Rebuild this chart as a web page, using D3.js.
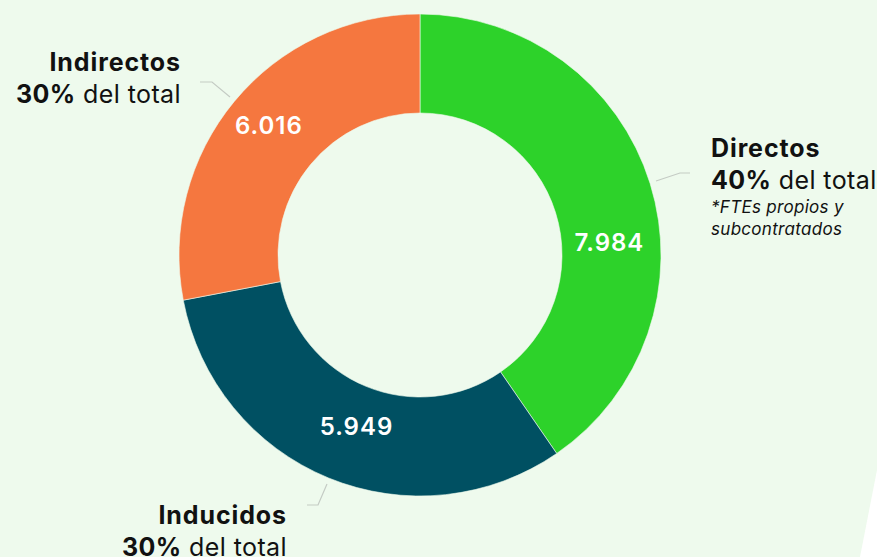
<!DOCTYPE html>
<html>
<head>
<meta charset="utf-8">
<script src="https://cdn.jsdelivr.net/npm/d3@7"></script>
<style>
  html, body { margin: 0; padding: 0; background: #eefaed; }
  #root { width: 877px; height: 557px; overflow: hidden; }
  text { font-family: Inter, "Noto Sans", sans-serif; }
</style>
</head>
<body>
<div id="root"></div>
<script>
// data
var categories = ['Directos', 'Inducidos', 'Indirectos'];
var values = [7984, 5949, 6016];
var percents = ['40%', '30%', '30%'];
// share of the ring each slice covers (in %)
var arcShares = [40.4, 31.6, 28.0];
var colors = ['#2dd22a', '#005062', '#f5773f'];
var note = ['*FTEs propios y', 'subcontratados'];

function drawDonut () {

  var width = 877;
  var height = 557;
  var cx = 420, cy = 255;
  var outerR = 241, innerR = 142;

  var svg = d3.select('#root')
    .append('svg')
      .attr('width', width)
      .attr('height', height);

  // white card edge in the corner
  svg.append('path')
    .attr('d', 'M877,470 L860,557 L877,557 Z')
    .style('fill', '#ffffff');

  var data = categories.map(function(c, i) {
    return {name: c, value: values[i], share: arcShares[i], pct: percents[i], color: colors[i]};
  });

  var pie = d3.pie()
    .sort(null)
    .value(function(d) { return d.share; });

  var arc = d3.arc()
    .innerRadius(innerR)
    .outerRadius(outerR);

  var g = svg.append('g')
    .attr('transform', 'translate(' + cx + ',' + cy + ')');

  var arcs = pie(data);

  g.selectAll('path.slice')
    .data(arcs)
    .enter()
    .append('path')
      .attr('class', 'slice')
      .attr('d', arc)
      .style('fill', function(d) { return d.data.color; })
      .style('stroke', '#eefaed')
      .style('stroke-width', 0.6);

  // value labels inside the ring (nudged to where the picture has them)
  var labelArc = d3.arc().innerRadius(191).outerRadius(191);
  var labelOffsets = [[7, 44], [9, -5], [-4, -8]];
  g.selectAll('text.val')
    .data(arcs)
    .enter()
    .append('text')
      .attr('class', 'val')
      .attr('x', function(d, i) { return labelArc.centroid(d)[0] + labelOffsets[i][0]; })
      .attr('y', function(d, i) { return labelArc.centroid(d)[1] + labelOffsets[i][1]; })
      .attr('dy', '0.36em')
      .attr('text-anchor', 'middle')
      .style('fill', '#fff')
      .style('font-size', '24px')
      .style('font-weight', 600)
      .style('letter-spacing', '1px')
      .text(function(d) { return d3.format(',')(d.data.value).replace(',', '.'); });

  // leader lines
  var leaders = [
    [[656, 181], [680, 173], [690, 173]],
    [[327, 484], [318, 505], [307, 505]],
    [[230, 97], [212, 82], [200, 82]]
  ];
  svg.selectAll('path.leader')
    .data(leaders)
    .enter()
    .append('path')
      .attr('class', 'leader')
      .attr('d', d3.line())
      .style('fill', 'none')
      .style('stroke', '#c4cbc4')
      .style('stroke-width', 1.2);

  // outside labels
  var labelPos = [
    {x: 711, y: 157, anchor: 'start'},
    {x: 287, y: 524, anchor: 'end'},
    {x: 181, y: 71, anchor: 'end'}
  ];

  data.forEach(function(d, i) {
    var p = labelPos[i];
    svg.append('text')
      .attr('x', p.x)
      .attr('y', p.y)
      .attr('text-anchor', p.anchor)
      .style('fill', '#111')
      .style('font-size', '25px')
      .style('font-weight', 700)
      .style('letter-spacing', '0.9px')
      .text(d.name);

    var t = svg.append('text')
      .attr('x', p.x)
      .attr('y', p.y + 32)
      .attr('text-anchor', p.anchor)
      .style('fill', '#111')
      .style('font-size', '25px')
      .style('letter-spacing', '0.4px');
    t.append('tspan').style('font-weight', 700).text(d.pct);
    t.append('tspan').style('font-weight', 400).text(' del total');
  });

  svg.selectAll('text.note')
    .data(note)
    .enter()
    .append('text')
      .attr('class', 'note')
      .attr('x', 711)
      .attr('y', function(d, i) { return 213 + i * 22; })
      .style('fill', '#111')
      .style('font-size', '17px')
      .style('font-style', 'italic')
      .style('font-weight', 400)
      .style('letter-spacing', '0.3px')
      .text(function(d) { return d; });
}

drawDonut();
</script>
</body>
</html>
